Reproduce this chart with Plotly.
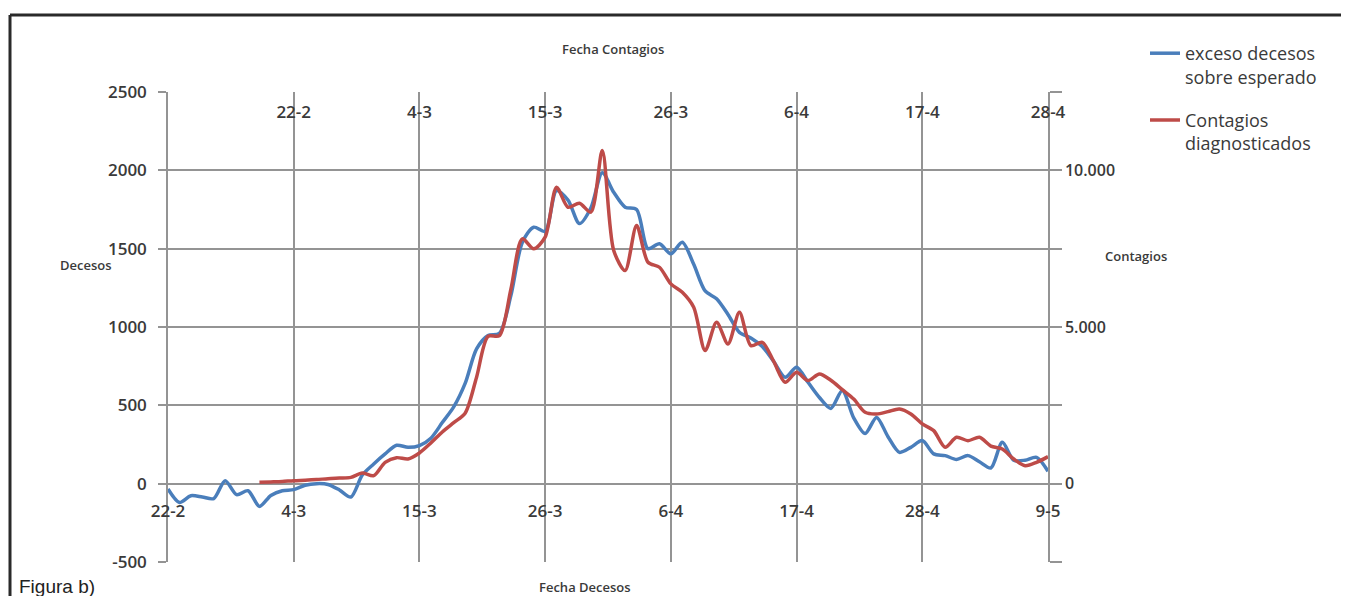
import pandas as pd
import plotly.graph_objects as go

# ---------------- data ----------------
# Fecha Decesos (bottom axis), daily from 22-2-2020 to 9-5-2020
deaths_start = "2020-02-22"
exceso_decesos = [
    -34, -120, -77, -85, -95, 19, -70, -45, -145, -75,
    -45, -38, -10, 0, -5, -40, -85, 55, 126, 190,
    245, 232, 243, 290, 390, 490, 640, 860, 945, 960,
    1200, 1540, 1637, 1610, 1870, 1810, 1660, 1760, 1985, 1860,
    1765, 1750, 1500, 1531, 1467, 1541, 1400, 1230, 1180, 1080,
    966, 930, 875, 780, 679, 743, 647, 550, 480, 594,
    420, 320, 423, 300, 200, 232, 275, 190, 179, 155,
    179, 140, 100, 264, 150, 150, 168, 79,
]
# Fecha Contagios (top axis), daily from 19-2-2020 to 28-4-2020
contagios_start = "2020-02-19"
contagios_diagnosticados = [
    42, 55, 70, 96, 110, 130, 160, 180, 201, 340,
    255, 680, 830, 788, 980, 1300, 1650, 1950, 2250, 3400,
    4700, 4726, 6200, 7813, 7494, 7866, 9461, 8822, 8950, 8663,
    10633, 7440, 6801, 8238, 7066, 6907, 6376, 6108, 5629, 4247,
    5150, 4460, 5470, 4406, 4512, 3900, 3234, 3554, 3289, 3503,
    3300, 3000, 2700, 2277, 2224, 2300, 2384, 2224, 1906, 1692,
    1160, 1479, 1373, 1479, 1200, 1107, 788, 575, 681, 862,
]
bottom_ticks = ["2020-02-22", "2020-03-04", "2020-03-15", "2020-03-26",
                "2020-04-06", "2020-04-17", "2020-04-28", "2020-05-09"]
top_ticks = ["2020-02-22", "2020-03-04", "2020-03-15", "2020-03-26",
             "2020-04-06", "2020-04-17", "2020-04-28"]
left_ticks = [-500, 0, 500, 1000, 1500, 2000, 2500]
left_ticktext = ["-500", "0", "500", "1000", "1500", "2000", "2500"]
right_tickvals = [-2500, 0, 2500, 5000, 7500, 10000, 12500]
right_ticktext = ["", "0", "", "5.000", "", "10.000", ""]

death_dates = pd.date_range(deaths_start, periods=len(exceso_decesos), freq="D")
cont_dates = pd.date_range(contagios_start, periods=len(contagios_diagnosticados), freq="D")

# ---------------- geometry (screen pixels of the 1349x596 window) ----------------
W, H = 1349, 596
OFF = 8                      # page body margin of the html page
L, R, T, B = 168, 1048, 92, 562


def px_x(x):
    return (x - L) / (R - L)


def px_y(y):
    return (B - y) / (B - T)


BLUE = "#4A7EBB"
RED = "#BE4B48"
GRID = "#949494"
TXT = "#3a3a3a"
FONT = "Open Sans, Lato, sans-serif"

fig = go.Figure()
fig.add_trace(go.Scatter(
    x=death_dates, y=exceso_decesos, mode="lines",
    name="exceso decesos<br>sobre esperado", legendgroup="a",
    line=dict(color=BLUE, width=3.5, shape="spline", smoothing=0.8),
    xaxis="x", yaxis="y",
))
fig.add_trace(go.Scatter(
    x=cont_dates, y=contagios_diagnosticados, mode="lines",
    name="Contagios<br>diagnosticados", legendgroup="b",
    line=dict(color=RED, width=3.5, shape="spline", smoothing=0.8),
    xaxis="x2", yaxis="y2",
))

tick_font = dict(family=FONT, size=17, color=TXT, weight=600)

fig.update_layout(
    width=W - OFF, height=H - OFF,
    margin=dict(l=L - OFF, r=W - R, t=T - OFF, b=H - B),
    paper_bgcolor="white", plot_bgcolor="white",
    font=dict(family=FONT, color=TXT),
    xaxis=dict(
        type="date", range=[bottom_ticks[0], bottom_ticks[-1]],
        tickvals=bottom_ticks, tickformat="%-d-%-m",
        anchor="free", position=px_y(499),
        showgrid=True, gridcolor=GRID, gridwidth=1.5,
        showline=False, zeroline=False, ticks="",
        tickfont=tick_font,
    ),
    xaxis2=dict(
        type="date", overlaying="x", side="top",
        range=["2020-02-11", "2020-04-28"],
        tickvals=top_ticks, tickformat="%-d-%-m",
        anchor="free", position=px_y(121),
        showgrid=False, showline=False, zeroline=False, ticks="",
        tickfont=tick_font,
    ),
    yaxis=dict(
        range=[-500, 2500], tickvals=left_ticks, ticktext=left_ticktext,
        showgrid=True, gridcolor=GRID, gridwidth=1.5,
        showline=True, linecolor=GRID, linewidth=1.5,
        ticks="outside", ticklen=8, tickcolor=GRID, tickwidth=1.5,
        ticklabelstandoff=8,
        zeroline=False, tickfont=tick_font,
    ),
    yaxis2=dict(
        overlaying="y", side="right", anchor="x",
        range=[-2500, 12500], tickvals=right_tickvals, ticktext=right_ticktext,
        showgrid=False, showline=True, linecolor=GRID, linewidth=1.5,
        ticks="outside", ticklen=12, tickcolor=GRID, tickwidth=1.5,
        zeroline=False, tickfont=dict(family=FONT, size=16, color=TXT, weight=600),
    ),
    legend=dict(
        x=px_x(1145), y=px_y(35), xanchor="left", yanchor="top",
        font=dict(family=FONT, size=18, color=TXT),
        valign="top", tracegroupgap=17, bgcolor="rgba(0,0,0,0)",
    ),
    showlegend=True,
)

annos = [
    dict(text="Decesos", x=px_x(86), y=px_y(265)),
    dict(text="Contagios", x=px_x(1136), y=px_y(256)),
    dict(text="Fecha Contagios", x=px_x(613), y=px_y(49)),
    dict(text="Fecha Decesos", x=px_x(585), y=px_y(587)),
]
for a in annos:
    fig.add_annotation(
        text=a["text"], x=a["x"], y=a["y"], xref="paper", yref="paper",
        xanchor="center", yanchor="middle", showarrow=False,
        font=dict(family=FONT, size=13, color=TXT, weight=600),
    )
fig.add_annotation(
    text="Figura b)", x=px_x(17), y=px_y(586), xref="paper", yref="paper",
    xanchor="left", yanchor="middle", showarrow=False,
    font=dict(family="Liberation Sans, Arial, sans-serif", size=19, color="#222222"),
)

# outer frame of the figure (top and left borders)
fig.add_shape(type="line", xref="paper", yref="paper",
              x0=px_x(10), x1=px_x(W + 5), y0=px_y(15), y1=px_y(15),
              line=dict(color="#2a2a2a", width=3))
fig.add_shape(type="line", xref="paper", yref="paper",
              x0=px_x(10), x1=px_x(10), y0=px_y(15), y1=px_y(H + 5),
              line=dict(color="#2a2a2a", width=3))

fig.write_html("out.html")
